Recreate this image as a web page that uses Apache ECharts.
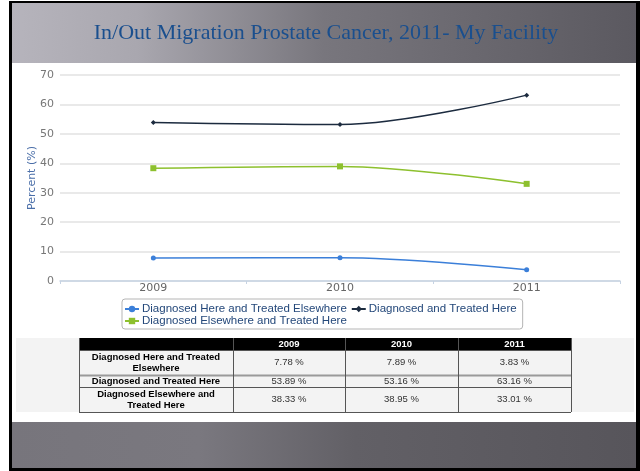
<!DOCTYPE html>
<html>
<head>
<meta charset="utf-8">
<script src="https://cdn.jsdelivr.net/npm/echarts@6/dist/echarts.min.js"></script>
<style>
    html, body { margin: 0; padding: 0; background: #fff; }
    #chart { width: 640px; height: 471px; }
</style>
</head>
<body>
<div id="chart"></div>
<script>
    // data
    var years = ['2009', '2010', '2011'];
    var seriesNames = ['Diagnosed Here and Treated Elsewhere', 'Diagnosed and Treated Here', 'Diagnosed Elsewhere and Treated Here'];
    var tableLabels = ['Diagnosed Here and Treated\nElsewhere', 'Diagnosed and Treated Here', 'Diagnosed Elsewhere and\nTreated Here'];
    var hereElsewhere = [7.78, 7.89, 3.83];
    var treatedHere = [53.89, 53.16, 63.16];
    var elsewhereHere = [38.33, 38.95, 33.01];
    var yTicks = [0, 10, 20, 30, 40, 50, 60, 70];

    var values = [hereElsewhere, treatedHere, elsewhereHere];
    var colors = ['#3b7fd9', '#1c2b3f', '#8dc02e'];
    var symbols = ['circle', 'diamond', 'rect'];
    var symbolSizes = [5, 5, 6];

    // table geometry
    var colX = [79, 233, 345, 458, 571];
    var rowY = [338, 350, 375, 387, 412];

    function tableGraphics() {
        var g = [];
        g.push({ type: 'rect', shape: { x: 16, y: 338, width: 618, height: 74 }, style: { fill: '#f3f3f3' }, silent: true });
        g.push({ type: 'rect', shape: { x: colX[0], y: rowY[0], width: colX[4] - colX[0], height: rowY[1] - rowY[0] }, style: { fill: '#000' }, silent: true });
        years.forEach(function (y, i) {
            g.push({
                type: 'text', silent: true,
                style: { x: (colX[i + 1] + colX[i + 2]) / 2, y: (rowY[0] + rowY[1]) / 2, text: y, fill: '#fff',
                    font: 'bold 9.5px "Liberation Sans", Arial', align: 'center', verticalAlign: 'middle' }
            });
        });
        tableLabels.forEach(function (lab, r) {
            var cy = (rowY[r + 1] + rowY[r + 2]) / 2;
            g.push({
                type: 'text', silent: true,
                style: { x: (colX[0] + colX[1]) / 2, y: cy, text: lab, fill: '#000', lineHeight: 11,
                    font: 'bold 9.5px "Liberation Sans", Arial', align: 'center', verticalAlign: 'middle' }
            });
            values[r].forEach(function (v, c) {
                g.push({
                    type: 'text', silent: true,
                    style: { x: (colX[c + 1] + colX[c + 2]) / 2, y: cy, text: v.toFixed(2) + ' %', fill: '#333',
                        font: '9.5px "Liberation Sans", Arial', align: 'center', verticalAlign: 'middle' }
                });
            });
        });
        // grid lines of the table
        for (var r = 1; r < rowY.length; r++) {
            g.push({ type: 'line', silent: true, shape: { x1: colX[0], y1: rowY[r] + 0.5, x2: colX[4], y2: rowY[r] + 0.5 },
                style: { stroke: r === 2 ? '#9a9a9a' : '#555', lineWidth: r === 2 ? 2 : 1 } });
        }
        colX.forEach(function (x) {
            g.push({ type: 'line', silent: true, shape: { x1: x + 0.5, y1: rowY[0], x2: x + 0.5, y2: rowY[4] },
                style: { stroke: '#555', lineWidth: 1 } });
        });
        return g;
    }

    var graphics = [
        // slide frame
        { type: 'rect', shape: { x: 9, y: 1, width: 631, height: 470 }, style: { fill: '#000' }, silent: true, z: -10 },
        { type: 'rect', shape: { x: 12, y: 3, width: 624, height: 465 }, style: { fill: '#fff' }, silent: true, z: -9 },
        { type: 'rect', shape: { x: 12, y: 3, width: 624, height: 60 }, silent: true, z: -8,
            style: { fill: new echarts.graphic.LinearGradient(0, 0, 1, 0, [
                { offset: 0, color: '#b6b4bc' },
                { offset: 0.2, color: '#a9a7af' },
                { offset: 0.5, color: '#78767d' },
                { offset: 1, color: '#5b5960' }
            ]) } },
        { type: 'rect', shape: { x: 12, y: 422, width: 624, height: 46 }, silent: true, z: -8,
            style: { fill: new echarts.graphic.LinearGradient(0, 0, 1, 0, [
                { offset: 0, color: '#77757c' },
                { offset: 0.3, color: '#7a787f' },
                { offset: 0.55, color: '#626066' },
                { offset: 1, color: '#57555b' }
            ]) } },
        { type: 'text', silent: true, z: -7,
            style: { x: 326, y: 33, text: 'In/Out Migration Prostate Cancer, 2011- My Facility', fill: '#1a4f8e',
                font: '22px "Liberation Serif", serif', align: 'center', verticalAlign: 'middle' } }
    ].concat(tableGraphics());

    var option = {
        animation: false,
        backgroundColor: '#fff',
        graphic: graphics,
        grid: { left: 60, right: 20, top: 75, bottom: 190 },
        legend: {
            data: seriesNames,
            left: 122,
            top: 299,
            width: 410,
            itemWidth: 14,
            itemHeight: 8,
            itemGap: 0,
            padding: [4, 2, 2, 2],
            borderColor: '#b5b5b5',
            borderWidth: 1,
            borderRadius: 3,
            backgroundColor: '#fff',
            textStyle: { color: '#24487a', fontSize: 11.5, lineHeight: 12, fontFamily: '"Liberation Sans", Arial', padding: [0, 4, 0, -2] }
        },
        xAxis: {
            type: 'category',
            data: years,
            boundaryGap: true,
            axisLine: { lineStyle: { color: '#c6d3e3', width: 1.5 } },
            axisTick: { show: true, length: 3, lineStyle: { color: '#c6d3e3' } },
            axisLabel: { color: '#666', fontSize: 11, fontFamily: '"DejaVu Sans"', margin: 2 }
        },
        yAxis: {
            type: 'value',
            min: yTicks[0],
            max: yTicks[yTicks.length - 1],
            interval: 10,
            name: 'Percent (%)',
            nameLocation: 'middle',
            nameGap: 22,
            nameMoveOverlap: false,
            nameTextStyle: { color: '#4a6ea8', fontSize: 11, fontFamily: '"DejaVu Sans"' },
            axisLine: { show: false },
            axisTick: { show: false },
            axisLabel: { color: '#777', fontSize: 11, fontFamily: '"DejaVu Sans"', margin: 6 },
            splitLine: { lineStyle: { color: '#e2e2e2', width: 1.5 } }
        },
        series: seriesNames.map(function (name, i) {
            return {
                name: name,
                type: 'line',
                data: values[i],
                smooth: 0.35,
                symbol: symbols[i],
                symbolSize: symbolSizes[i],
                showAllSymbol: true,
                itemStyle: { color: colors[i] },
                lineStyle: { color: colors[i], width: 1.5 }
            };
        })
    };

    var chart = echarts.init(document.getElementById('chart'));
    chart.setOption(option);
    window.addEventListener('resize', function () {
        chart.resize();
    });
</script>
</body>
</html>
